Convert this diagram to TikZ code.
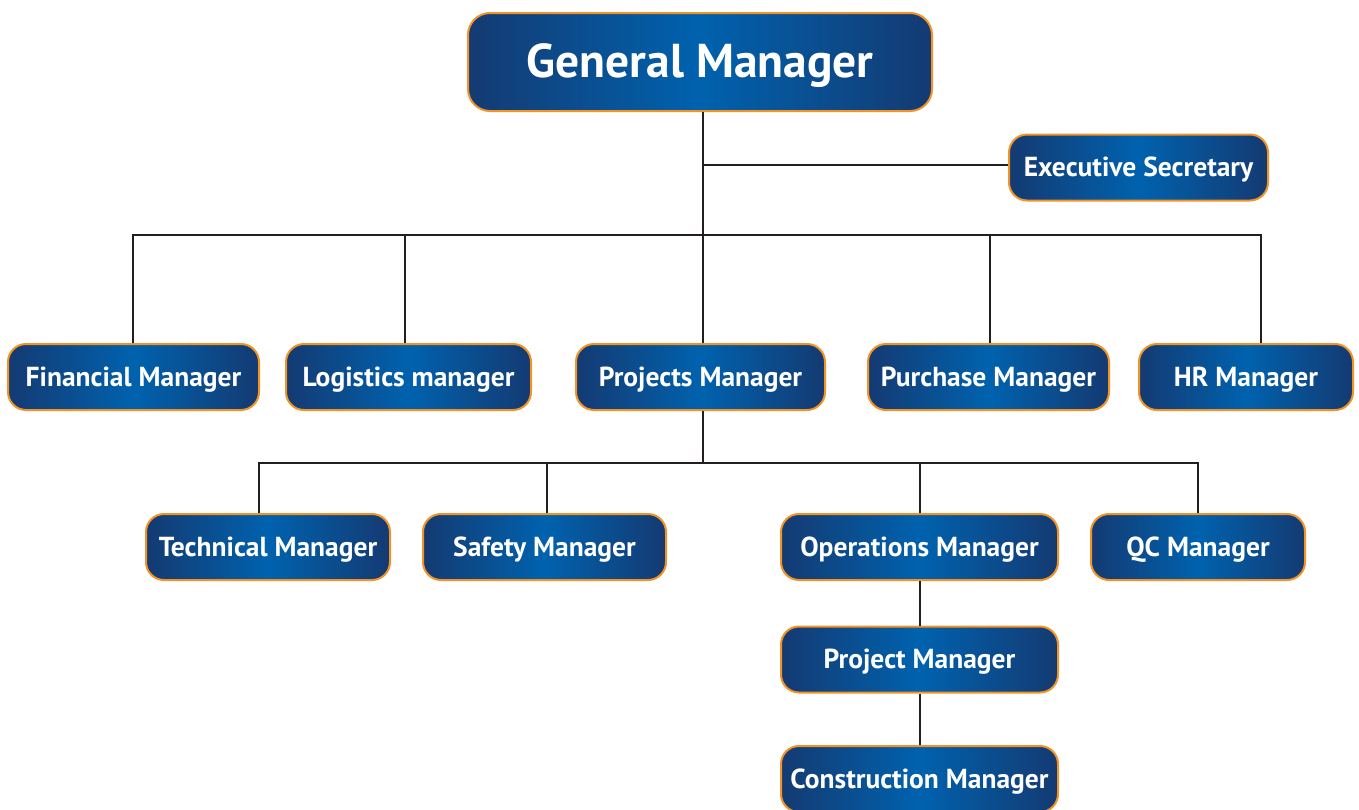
\documentclass[tikz,border=0pt]{standalone}
\usepackage{fontspec}
\setmainfont{PT Sans}
\definecolor{boxdark}{HTML}{143A72}
\definecolor{boxlight}{HTML}{0062AE}
\definecolor{boxedge}{HTML}{F39325}
\definecolor{linec}{HTML}{231F20}
\begin{document}
\begin{tikzpicture}[x=1pt,y=-1pt,
  box/.style={draw=boxedge, line width=2pt, rounded corners=18pt,
    left color=boxdark, right color=boxdark, middle color=boxlight,
    text=white, font=\fontsize{27.5}{30}\selectfont\bfseries,
    text height=24pt, text depth=6pt,
    minimum height=66pt, inner sep=0pt, anchor=center},
  conn/.style={draw=linec, line width=2pt}]
\useasboundingbox (0,0) rectangle (1359,809);
\begin{scope}
\clip (0,0) rectangle (1359,809);
\node[box, minimum width=464pt, minimum height=98pt, rounded corners=22pt,
  text height=40pt, text depth=10pt,
  font=\fontsize{47.5}{52}\selectfont\bfseries] (gm) at (700,62) {General Manager};
\node[box, minimum width=259pt] (es) at (1138.5,167.5) {Executive Secretary};
\node[box, minimum width=251pt] (fin) at (133.5,377) {Financial Manager};
\node[box, minimum width=245pt] (log) at (408.5,377) {Logistics manager};
\node[box, minimum width=249pt] (pro) at (700.5,377) {Projects Manager};
\node[box, minimum width=241pt] (pur) at (988.5,377) {Purchase Manager};
\node[box, minimum width=214pt] (hr) at (1246,377) {HR Manager};
\node[box, minimum width=244pt] (tec) at (268,547) {Technical Manager};
\node[box, minimum width=243pt] (saf) at (544.5,547) {Safety Manager};
\node[box, minimum width=277pt] (ope) at (919.5,547) {Operations Manager};
\node[box, minimum width=214pt] (qc) at (1198,547) {QC Manager};
\node[box, minimum width=277pt] (pm) at (919.5,659.5) {Project Manager};
\node[box, minimum width=277pt] (cm) at (919.5,779) {Construction Manager};
\end{scope}
% top-level trunk
\coordinate (t1) at (703,235);
\coordinate (t2) at (703,165);
\draw[conn] (gm.south -| t1) -- (t1);
\draw[conn] (t2) -- (t2 -| es.west);
\draw[conn] (fin.north -| 133,0) |- (t1) -| (log.north -| 405,0);
\draw[conn] (t1) -- (pro.north -| t1);
\draw[conn] (t1) -| (pur.north -| 990,0);
\draw[conn] (t1) -| (hr.north -| 1261,0);
% projects sub-tree
\coordinate (p1) at (703,463);
\draw[conn] (pro.south -| p1) -- (p1);
\draw[conn] (p1) -| (tec.north -| 259,0);
\draw[conn] (p1) -| (saf.north -| 547,0);
\draw[conn] (p1) -| (ope.north -| 920,0);
\draw[conn] (p1) -| (qc.north);
\draw[conn] (ope.south -| 920,0) -- (pm.north -| 920,0);
\draw[conn] (pm.south -| 920,0) -- (cm.north -| 920,0);
\end{tikzpicture}
\end{document}
